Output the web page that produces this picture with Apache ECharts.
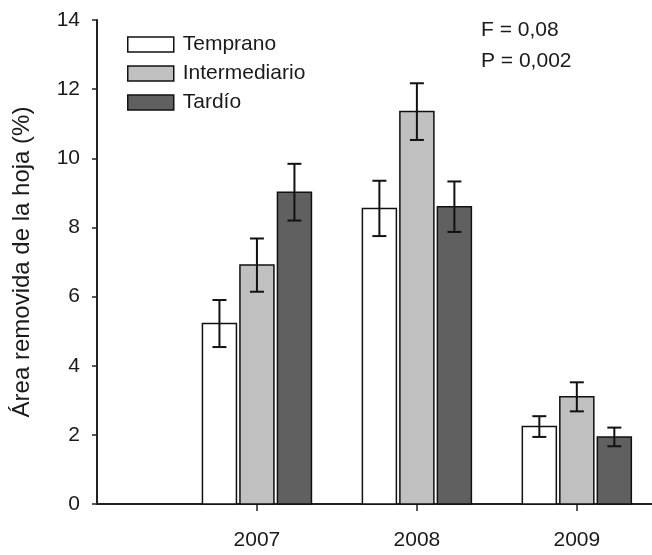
<!DOCTYPE html>
<html>
<head>
<meta charset="utf-8">
<script src="https://cdn.jsdelivr.net/npm/echarts@6/dist/echarts.min.js"></script>
<style>
  html, body { margin: 0; padding: 0; background: #fff; }
  #chart { width: 652px; height: 555px; }
</style>
</head>
<body>
<div id="chart"></div>
<script>
// Leaf area removed (%) per year and phenological group, mean ± error
const years = ['2007', '2008', '2009'];
const groups = ['Temprano', 'Intermediario', 'Tardío'];
const temprano = [5.22, 8.55, 2.24];
const intermediario = [6.91, 11.35, 3.10];
const tardio = [9.02, 8.60, 1.94];
const errTemprano = [0.68, 0.80, 0.30];
const errIntermediario = [0.77, 0.82, 0.42];
const errTardio = [0.82, 0.73, 0.27];
const yTicks = [0, 2, 4, 6, 8, 10, 12, 14];
const statsText = ['F = 0,08', 'P = 0,002'];

const fills = ['#ffffff', '#c0c0c0', '#606060'];
const FONT = "'Liberation Sans', Arial, sans-serif";
const INK = '#1a1a1a';
const BAR_W = 34;
const BAR_STEP = 37.5;

const chart = echarts.init(document.getElementById('chart'));

function barSeries(k, values, errors) {
  return {
    name: groups[k],
    type: 'custom',
    itemStyle: { color: fills[k], borderColor: '#000', borderWidth: 1.5 },
    data: values.map((v, i) => [i + 1, v, errors[i]]),
    renderItem: function (params, api) {
      const x = api.value(0), v = api.value(1), e = api.value(2);
      const top = api.coord([x, v]);
      const base = api.coord([x, 0]);
      const hi = api.coord([x, v + e]);
      const lo = api.coord([x, v - e]);
      const cx = top[0] + (k - 1) * BAR_STEP;
      const cap = 7;
      const line = { stroke: '#111', lineWidth: 2 };
      return {
        type: 'group',
        children: [
          {
            type: 'rect',
            shape: { x: cx - BAR_W / 2, y: top[1], width: BAR_W, height: base[1] - top[1] },
            style: { fill: fills[k], stroke: '#111', lineWidth: 1.5 }
          },
          { type: 'line', shape: { x1: cx, y1: hi[1], x2: cx, y2: lo[1] }, style: line },
          { type: 'line', shape: { x1: cx - cap, y1: hi[1], x2: cx + cap, y2: hi[1] }, style: line },
          { type: 'line', shape: { x1: cx - cap, y1: lo[1], x2: cx + cap, y2: lo[1] }, style: line }
        ]
      };
    }
  };
}

chart.setOption({
  animation: false,
  backgroundColor: '#fff',
  textStyle: { fontFamily: FONT },
  grid: { left: 97, right: 0, top: 20, bottom: 51, containLabel: false },
  xAxis: {
    type: 'value',
    min: 0,
    max: 3.47,
    interval: 1,
    splitLine: { show: false },
    axisLine: { show: true, lineStyle: { color: '#222', width: 2 } },
    axisTick: { show: true, customValues: [1, 2, 3], length: 7, lineStyle: { color: '#222', width: 1.5 } },
    axisLabel: {
      customValues: [1, 2, 3],
      formatter: v => years[Math.round(v) - 1],
      fontSize: 21, color: INK, fontFamily: FONT, margin: 26
    }
  },
  yAxis: {
    type: 'value',
    min: yTicks[0],
    max: yTicks[yTicks.length - 1],
    interval: 2,
    name: 'Área removida de la hoja (%)',
    nameLocation: 'middle',
    nameGap: 63,
    nameRotate: 90,
    nameTextStyle: { fontSize: 24, color: INK, fontFamily: FONT },
    splitLine: { show: false },
    axisLine: { show: true, lineStyle: { color: '#222', width: 2 } },
    axisTick: { show: true, length: 5, lineStyle: { color: '#222', width: 1.5 } },
    axisLabel: { fontSize: 21, color: INK, fontFamily: FONT, margin: 17 }
  },
  legend: {
    orient: 'vertical',
    left: 122,
    top: 29,
    padding: 5,
    itemWidth: 46,
    itemHeight: 15,
    itemGap: 8,
    icon: 'rect',
    selectedMode: false,
    textStyle: { fontSize: 21, color: INK, fontFamily: FONT, padding: [0, 0, 0, 4] },
    data: groups.map((g, k) => ({
      name: g,
      itemStyle: { color: fills[k], borderColor: '#111', borderWidth: 1.5 }
    }))
  },
  graphic: statsText.map((t, i) => ({
    type: 'text',
    left: 481,
    top: 20 + i * 31,
    style: { text: t, fontSize: 21, fill: INK, fontFamily: FONT }
  })),
  series: [
    barSeries(0, temprano, errTemprano),
    barSeries(1, intermediario, errIntermediario),
    barSeries(2, tardio, errTardio)
  ]
});
</script>
</body>
</html>
